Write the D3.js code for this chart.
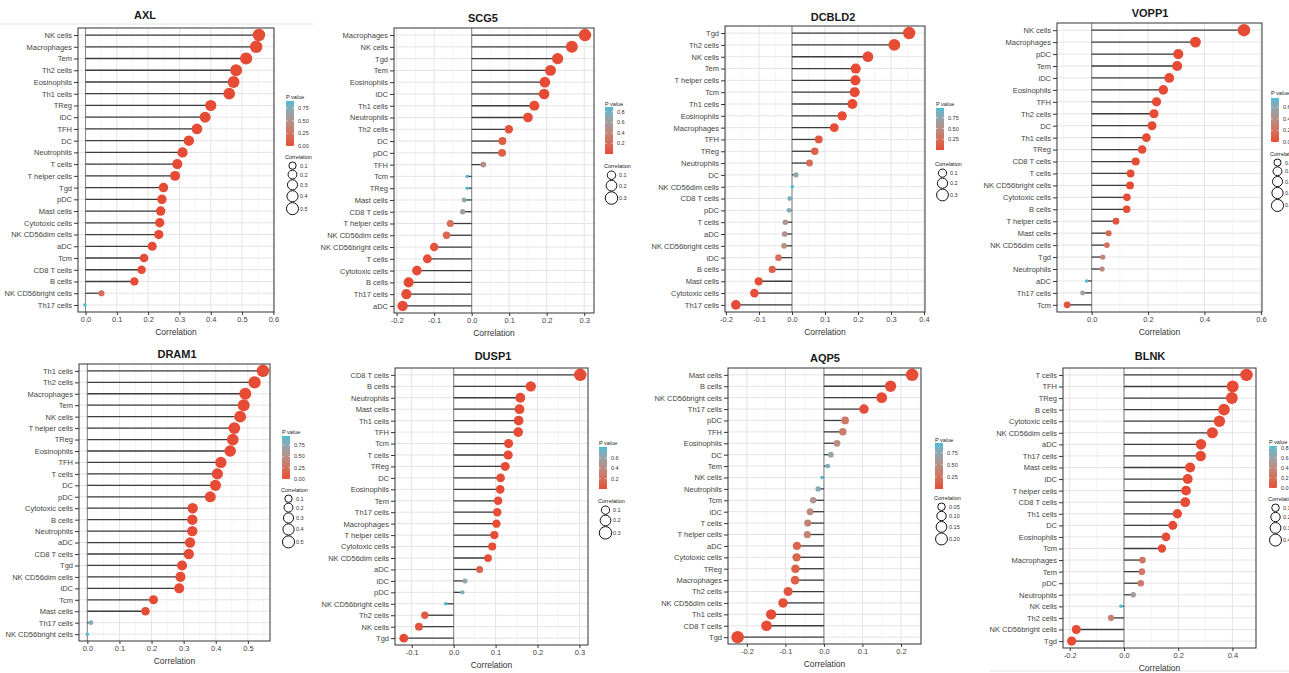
<!DOCTYPE html>
<html lang="en">
<head>
<meta charset="utf-8">
<script src="https://d3js.org/d3.v7.min.js"></script>
<style>
  body{margin:0;background:#fff;}
  svg text{font-family:"Liberation Sans",Arial,sans-serif;}
</style>
</head>
<body>
<svg id="chart" width="1289" height="673"></svg>
<script>
// values, listed top to bottom as displayed
var axlCells = ["NK cells","Macrophages","Tem","Th2 cells","Eosinophils","Th1 cells","TReg","iDC","TFH","DC","Neutrophils","T cells","T helper cells","Tgd","pDC","Mast cells","Cytotoxic cells","NK CD56dim cells","aDC","Tcm","CD8 T cells","B cells","NK CD56bright cells","Th17 cells"];
var axlCor = [0.554,0.545,0.513,0.481,0.473,0.459,0.400,0.382,0.356,0.330,0.310,0.293,0.286,0.249,0.244,0.240,0.237,0.234,0.213,0.187,0.179,0.156,0.051,-0.002];
var axlP = [0,0,0,0,0,0,0,0,0,0,0,0,0,0,0,0,0,0,0,0,0,0,0.2,0.89];

var scg5Cells = ["Macrophages","NK cells","Tgd","Tem","Eosinophils","iDC","Th1 cells","Neutrophils","Th2 cells","DC","pDC","TFH","Tcm","TReg","Mast cells","CD8 T cells","T helper cells","NK CD56dim cells","NK CD56bright cells","T cells","Cytotoxic cells","B cells","Th17 cells","aDC"];
var scg5Cor = [0.302,0.267,0.229,0.210,0.195,0.193,0.167,0.150,0.099,0.082,0.081,0.031,-0.012,-0.012,-0.020,-0.024,-0.057,-0.067,-0.100,-0.118,-0.146,-0.168,-0.174,-0.184];
var scg5P = [0,0,0,0,0,0,0.001,0.002,0.04,0.09,0.1,0.48,0.85,0.89,0.72,0.62,0.2,0.16,0.04,0.01,0.002,0,0,0];

var dcbld2Cells = ["Tgd","Th2 cells","NK cells","Tem","T helper cells","Tcm","Th1 cells","Eosinophils","Macrophages","TFH","TReg","Neutrophils","DC","NK CD56dim cells","CD8 T cells","pDC","T cells","aDC","NK CD56bright cells","iDC","B cells","Mast cells","Cytotoxic cells","Th17 cells"];
var dcbld2Cor = [0.355,0.310,0.230,0.193,0.192,0.190,0.183,0.152,0.128,0.081,0.069,0.053,0.012,0.001,-0.007,-0.009,-0.020,-0.022,-0.024,-0.041,-0.060,-0.101,-0.114,-0.170];
var dcbld2P = [0,0,0,0,0,0,0,0.001,0.003,0.08,0.13,0.22,0.75,0.98,0.86,0.82,0.58,0.55,0.5,0.27,0.12,0.01,0.004,0];

var vopp1Cells = ["NK cells","Macrophages","pDC","Tem","iDC","Eosinophils","TFH","Th2 cells","DC","Th1 cells","TReg","CD8 T cells","T cells","NK CD56bright cells","Cytotoxic cells","B cells","T helper cells","Mast cells","NK CD56dim cells","Tgd","Neutrophils","aDC","Th17 cells","Tcm"];
var vopp1Cor = [0.540,0.368,0.307,0.303,0.275,0.254,0.230,0.221,0.214,0.194,0.179,0.156,0.138,0.136,0.125,0.124,0.086,0.060,0.054,0.039,0.037,-0.018,-0.032,-0.087];
var vopp1P = [0,0,0,0,0,0,0,0,0,0,0,0,0,0,0.002,0.002,0.03,0.15,0.2,0.33,0.35,0.76,0.55,0.03];

var dram1Cells = ["Th1 cells","Th2 cells","Macrophages","Tem","NK cells","T helper cells","TReg","Eosinophils","TFH","T cells","DC","pDC","Cytotoxic cells","B cells","Neutrophils","aDC","CD8 T cells","Tgd","NK CD56dim cells","iDC","Tcm","Mast cells","Th17 cells","NK CD56bright cells"];
var dram1Cor = [0.547,0.521,0.492,0.487,0.476,0.458,0.453,0.445,0.416,0.405,0.399,0.383,0.328,0.327,0.327,0.320,0.316,0.295,0.290,0.286,0.206,0.181,0.011,0.000];
var dram1P = [0,0,0,0,0,0,0,0,0,0,0,0,0,0,0,0,0,0,0,0,0,0,0.8,0.95];

var dusp1Cells = ["CD8 T cells","B cells","Neutrophils","Mast cells","Th1 cells","TFH","Tcm","T cells","TReg","DC","Eosinophils","Tem","Th17 cells","Macrophages","T helper cells","Cytotoxic cells","NK CD56dim cells","aDC","iDC","pDC","NK CD56bright cells","Th2 cells","NK cells","Tgd"];
var dusp1Cor = [0.302,0.184,0.159,0.157,0.155,0.154,0.131,0.130,0.123,0.112,0.111,0.106,0.104,0.102,0.097,0.092,0.082,0.062,0.027,0.021,-0.019,-0.069,-0.083,-0.119];
var dusp1P = [0,0,0,0,0,0,0,0,0.001,0.002,0.002,0.003,0.003,0.004,0.005,0.005,0.02,0.12,0.62,0.68,0.81,0.08,0.03,0.001];

var aqp5Cells = ["Mast cells","B cells","NK CD56bright cells","Th17 cells","pDC","TFH","Eosinophils","DC","Tem","NK cells","Neutrophils","Tcm","iDC","T cells","T helper cells","aDC","Cytotoxic cells","TReg","Macrophages","Th2 cells","NK CD56dim cells","Th1 cells","CD8 T cells","Tgd"];
var aqp5Cor = [0.229,0.173,0.150,0.104,0.055,0.049,0.034,0.018,0.010,-0.005,-0.015,-0.028,-0.036,-0.042,-0.043,-0.070,-0.071,-0.074,-0.075,-0.093,-0.106,-0.137,-0.149,-0.224];
var aqp5P = [0,0,0,0.02,0.3,0.35,0.48,0.7,0.8,0.95,0.78,0.55,0.45,0.38,0.38,0.15,0.15,0.13,0.13,0.05,0.02,0.001,0,0];

var blnkCells = ["T cells","TFH","TReg","B cells","Cytotoxic cells","NK CD56dim cells","aDC","Th17 cells","Mast cells","iDC","T helper cells","CD8 T cells","Th1 cells","DC","Eosinophils","Tcm","Macrophages","Tem","pDC","Neutrophils","NK cells","Th2 cells","NK CD56bright cells","Tgd"];
var blnkCor = [0.452,0.401,0.398,0.369,0.352,0.326,0.284,0.283,0.244,0.235,0.229,0.226,0.197,0.180,0.155,0.140,0.068,0.066,0.062,0.034,-0.011,-0.048,-0.176,-0.193];
var blnkP = [0,0,0,0,0,0,0,0,0,0,0,0,0,0,0,0,0.25,0.27,0.3,0.55,0.84,0.33,0,0];

// panel layout (pixel boxes, axis ranges, legend spots)
var panels = [
  {gene:"AXL", cells:axlCells, cor:axlCor, p:axlP, x0:78, x1:274, y0:28, y1:312, dom:[-0.024,0.602], ticks:[0,0.1,0.2,0.3,0.4,0.5,0.6], tx:145, ty:15,
   lx:286, pty:97, bt:101, bb:146, pBreaks:[0,0.25,0.5,0.75], pDec:2, cty:157, sBreaks:[0.1,0.2,0.3,0.4,0.5], sDec:1},
  {gene:"SCG5", cells:scg5Cells, cor:scg5Cor, p:scg5P, x0:394, x1:594, y0:28, y1:313, dom:[-0.207,0.326], ticks:[-0.2,-0.1,0,0.1,0.2,0.3], tx:483, ty:18,
   lx:605, pty:104, bt:107, bb:154, pBreaks:[0.2,0.4,0.6,0.8], pDec:1, cty:166, sBreaks:[0.1,0.2,0.3], sDec:1},
  {gene:"DCBLD2", cells:dcbld2Cells, cor:dcbld2Cor, p:dcbld2P, x0:725, x1:925, y0:26, y1:312, dom:[-0.203,0.403], ticks:[-0.2,-0.1,0,0.1,0.2,0.3,0.4], tx:833, ty:17,
   lx:936, pty:104, bt:108, bb:150, pBreaks:[0.25,0.5,0.75], pDec:2, cty:164, sBreaks:[0.1,0.2,0.3], sDec:1},
  {gene:"VOPP1", cells:vopp1Cells, cor:vopp1Cor, p:vopp1P, x0:1057, x1:1262, y0:23, y1:312, dom:[-0.123,0.604], ticks:[0,0.2,0.4,0.6], tx:1150, ty:13,
   lx:1271, pty:93, bt:98, bb:142, pBreaks:[0,0.2,0.4,0.6], pDec:1, cty:154, sBreaks:[0.1,0.2,0.3,0.4,0.5], sDec:1},
  {gene:"DRAM1", cells:dram1Cells, cor:dram1Cor, p:dram1P, x0:79, x1:270, y0:364, y1:641, dom:[-0.026,0.569], ticks:[0,0.1,0.2,0.3,0.4,0.5], tx:177, ty:354,
   lx:282, pty:432, bt:436, bb:479, pBreaks:[0,0.25,0.5,0.75], pDec:2, cty:490, sBreaks:[0.1,0.2,0.3,0.4,0.5], sDec:1},
  {gene:"DUSP1", cells:dusp1Cells, cor:dusp1Cor, p:dusp1P, x0:395, x1:588, y0:368, y1:645, dom:[-0.140,0.3205], ticks:[-0.1,0,0.1,0.2,0.3], tx:493, ty:356,
   lx:599, pty:443, bt:447, bb:489, pBreaks:[0.2,0.4,0.6], pDec:1, cty:501, sBreaks:[0.1,0.2,0.3], sDec:1},
  {gene:"AQP5", cells:aqp5Cells, cor:aqp5Cor, p:aqp5P, x0:728, x1:921, y0:368, y1:644, dom:[-0.249,0.252], ticks:[-0.2,-0.1,0,0.1,0.2], tx:825, ty:358,
   lx:935, pty:440, bt:443, bb:489, pBreaks:[0.25,0.5,0.75], pDec:2, cty:498, sBreaks:[0.05,0.1,0.15,0.2], sDec:2},
  {gene:"BLNK", cells:blnkCells, cor:blnkCor, p:blnkP, x0:1063, x1:1256, y0:368, y1:648, dom:[-0.225,0.487], ticks:[-0.2,0,0.2,0.4], tx:1150, ty:356,
   lx:1269, pty:442, bt:446, bb:488, pBreaks:[0,0.2,0.4,0.6,0.8], pDec:1, cty:499, sBreaks:[0.1,0.2,0.3,0.4], sDec:1}
];

var svg = d3.select("#chart");
var lowCol = "#E64B35", highCol = "#4DBBD5";
var defs = svg.append("defs");

// faint page edges seen in the figure
svg.append("line").attr("x1",0).attr("x2",313).attr("y1",24).attr("y2",24).attr("stroke","#e2e2e2");
svg.append("line").attr("x1",990).attr("x2",1289).attr("y1",671).attr("y2",671).attr("stroke","#e2e2e2");

panels.forEach(function(pn, i) {
  var g = svg.append("g");
  var x = d3.scaleLinear().domain(pn.dom).range([pn.x0, pn.x1]);
  var y = d3.scalePoint().domain(pn.cells).range([pn.y0, pn.y1]).padding(0.6);
  var pMax = d3.max(pn.p);
  var col = d3.scaleLinear().domain([0, pMax]).range([lowCol, highCol]).interpolate(d3.interpolateLab);
  var absR = pn.cor.map(Math.abs);
  var aMin = d3.min(absR), aMax = d3.max(absR);
  function diam(v) {
    var t = Math.max(0, (v - aMin) / (aMax - aMin));
    return 3.5 + 9 * Math.sqrt(t);
  }
  var rows = pn.cells.map(function(c, k) { return {cell:c, r:pn.cor[k], p:pn.p[k]}; });

  // grid: minor, major, rows
  var step = pn.ticks[1] - pn.ticks[0];
  var minors = [];
  for (var m = pn.ticks[0] - step/2; m <= pn.dom[1]; m += step) {
    if (m >= pn.dom[0]) minors.push(m);
  }
  g.selectAll(".gmin").data(minors).join("line")
    .attr("x1", d => x(d)).attr("x2", d => x(d)).attr("y1", pn.y0).attr("y2", pn.y1)
    .attr("stroke", "#eeeeee").attr("stroke-width", 0.6);
  g.selectAll(".gmaj").data(pn.ticks).join("line")
    .attr("x1", d => x(d)).attr("x2", d => x(d)).attr("y1", pn.y0).attr("y2", pn.y1)
    .attr("stroke", "#e4e4e4").attr("stroke-width", 1);
  g.selectAll(".grow").data(pn.cells).join("line")
    .attr("x1", pn.x0).attr("x2", pn.x1).attr("y1", d => y(d)).attr("y2", d => y(d))
    .attr("stroke", "#e4e4e4").attr("stroke-width", 1);

  // zero line
  g.append("line").attr("x1", x(0)).attr("x2", x(0)).attr("y1", pn.y0).attr("y2", pn.y1)
    .attr("stroke", "#8a8a8a").attr("stroke-width", 1.1);

  // lollipops
  g.selectAll(".seg").data(rows).join("line")
    .attr("x1", x(0)).attr("x2", d => x(d.r)).attr("y1", d => y(d.cell)).attr("y2", d => y(d.cell))
    .attr("stroke", "#3c3c3c").attr("stroke-width", 1.3);
  g.selectAll(".dot").data(rows).join("circle")
    .attr("cx", d => x(d.r)).attr("cy", d => y(d.cell)).attr("r", d => diam(Math.abs(d.r)) / 2)
    .attr("fill", d => col(d.p));

  // border
  g.append("rect").attr("x", pn.x0).attr("y", pn.y0).attr("width", pn.x1 - pn.x0).attr("height", pn.y1 - pn.y0)
    .attr("fill", "none").attr("stroke", "#333").attr("stroke-width", 1);

  // axes
  var ay = g.append("g").attr("transform", "translate(" + pn.x0 + ",0)")
    .call(d3.axisLeft(y).tickSize(4).tickPadding(2));
  var ax = g.append("g").attr("transform", "translate(0," + pn.y1 + ")")
    .call(d3.axisBottom(x).tickValues(pn.ticks).tickSize(3).tickPadding(2)
      .tickFormat(d => (Math.abs(d) < 1e-9 ? 0 : d).toFixed(1)));
  [ay, ax].forEach(function(a) {
    a.select(".domain").remove();
    a.selectAll(".tick line").attr("stroke", "#333");
    a.selectAll(".tick text").attr("fill", "#444").style("font-size", "7.5px");
  });

  g.append("text").attr("x", pn.tx).attr("y", pn.ty + 4).attr("text-anchor", "middle")
    .style("font-size", "11px").style("font-weight", "bold").attr("fill", "#1a1a1a").text(pn.gene);
  g.append("text").attr("x", (pn.x0 + pn.x1) / 2).attr("y", pn.y1 + 23).attr("text-anchor", "middle")
    .style("font-size", "8.5px").attr("fill", "#333").text("Correlation");

  // legend: P value colour bar
  var gid = "grad" + i;
  var grad = defs.append("linearGradient").attr("id", gid).attr("x1", 0).attr("x2", 0).attr("y1", 1).attr("y2", 0);
  d3.range(0, 1.0001, 0.1).forEach(function(t) {
    grad.append("stop").attr("offset", t).attr("stop-color", col(t * pMax));
  });
  var lg = svg.append("g");
  lg.append("text").attr("x", pn.lx).attr("y", pn.pty + 2).style("font-size", "5.5px").attr("fill", "#222").text("P value");
  lg.append("rect").attr("x", pn.lx).attr("y", pn.bt).attr("width", 8).attr("height", pn.bb - pn.bt)
    .attr("fill", "url(#" + gid + ")");
  var py = d3.scaleLinear().domain([0, pMax]).range([pn.bb, pn.bt]);
  pn.pBreaks.forEach(function(b) {
    lg.append("line").attr("x1", pn.lx).attr("x2", pn.lx + 1.6).attr("y1", py(b)).attr("y2", py(b)).attr("stroke", "#fff").attr("stroke-width", 0.6);
    lg.append("line").attr("x1", pn.lx + 6.4).attr("x2", pn.lx + 8).attr("y1", py(b)).attr("y2", py(b)).attr("stroke", "#fff").attr("stroke-width", 0.6);
    lg.append("text").attr("x", pn.lx + 12).attr("y", py(b) + 2).style("font-size", "5.5px").attr("fill", "#333")
      .text(b.toFixed(pn.pDec));
  });

  // legend: correlation sizes
  lg.append("text").attr("x", pn.lx - 1).attr("y", pn.cty + 2).style("font-size", "5.5px").attr("fill", "#222").text("Correlation");
  var cy = pn.cty + 5 + diam(pn.sBreaks[0]) / 2;
  pn.sBreaks.forEach(function(b, k) {
    if (k > 0) cy += (diam(pn.sBreaks[k - 1]) + diam(b)) / 2 + 0.8;
    lg.append("circle").attr("cx", pn.lx + 6.5).attr("cy", cy).attr("r", diam(b) / 2)
      .attr("fill", "none").attr("stroke", "#111").attr("stroke-width", 1);
    lg.append("text").attr("x", pn.lx + 14).attr("y", cy + 2).style("font-size", "5.5px").attr("fill", "#333")
      .text(b.toFixed(pn.sDec));
  });
});
</script>
</body>
</html>
